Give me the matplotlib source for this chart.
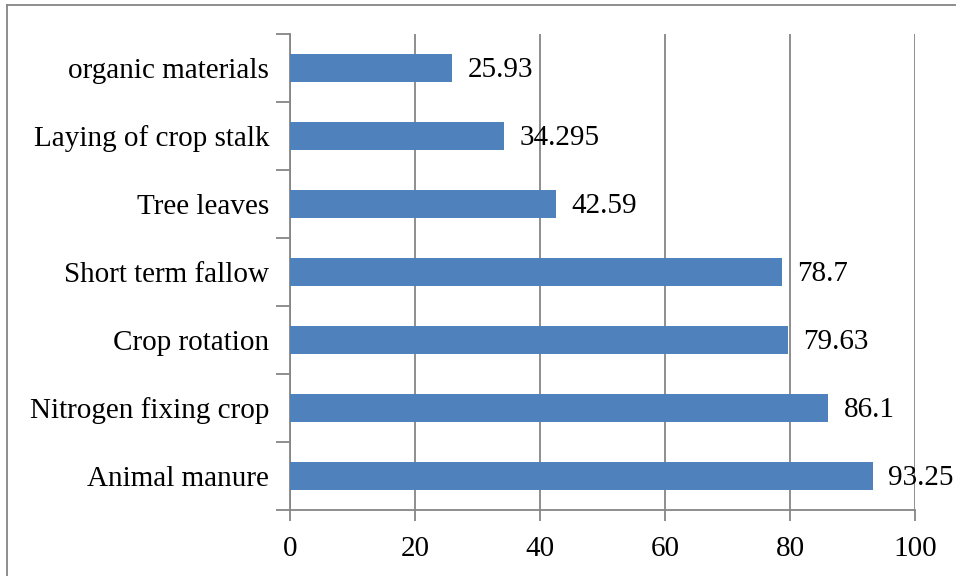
from matplotlib import pyplot as plt
from matplotlib.lines import Line2D

categories = ["Animal manure", "Nitrogen fixing crop", "Crop rotation",
              "Short term fallow", "Tree leaves", "Laying of crop stalk",
              "organic materials"]
values = [93.25, 86.1, 79.63, 78.7, 42.59, 34.295, 25.93]
value_labels = ["93.25", "86.1", "79.63", "78.7", "42.59", "34.295", "25.93"]
xticks = [0, 20, 40, 60, 80, 100]

plt.rcParams['font.family'] = ['Liberation Serif', 'DejaVu Serif']
W, H = 956, 576
fs = 21
fig = plt.figure(figsize=(W / 100, H / 100), dpi=100)
ax = fig.add_axes([290 / W, 1 - 510 / H, (915 - 290) / W, (510 - 34) / H])

grey = "#868686"
ypos = list(range(len(categories)))
ax.barh(ypos, values, height=0.4, color="#4F81BD", zorder=3)
for y, v, lab in zip(ypos, values, value_labels):
    ax.text(v + 2.5, y - 0.03, lab, va="center", ha="left", fontsize=fs, zorder=4)

ax.set_xlim(0, 100)
ax.set_ylim(-0.5, len(categories) - 0.5)
ax.set_xticks(xticks)
ax.set_xticklabels([str(t) for t in xticks], fontsize=fs)
ax.set_yticks(ypos)
ax.set_yticklabels(categories, fontsize=fs)
# ticks sit between categories, labels in the middle
ax.set_yticks([y - 0.5 for y in ypos] + [len(categories) - 0.5], minor=True)
ax.tick_params(axis="y", which="major", length=0, pad=25 - 10)
ax.tick_params(axis="y", which="minor", length=10, color=grey, width=1.3)
ax.tick_params(axis="x", length=8, color=grey, width=1.3, pad=11)
ax.grid(axis="x", color=grey, linewidth=1.3, zorder=0)
for s in ["top", "right"]:
    ax.spines[s].set_visible(False)
for s in ["left", "bottom"]:
    ax.spines[s].set_color(grey)
    ax.spines[s].set_linewidth(1.3)

# outer frame (only top and left edges visible)
fig.add_artist(Line2D([7 / W, 1], [1 - 5 / H, 1 - 5 / H], color=grey, lw=1.3))
fig.add_artist(Line2D([7 / W, 7 / W], [0, 1 - 5 / H], color=grey, lw=1.3))

fig.savefig("out.png", dpi=100)
